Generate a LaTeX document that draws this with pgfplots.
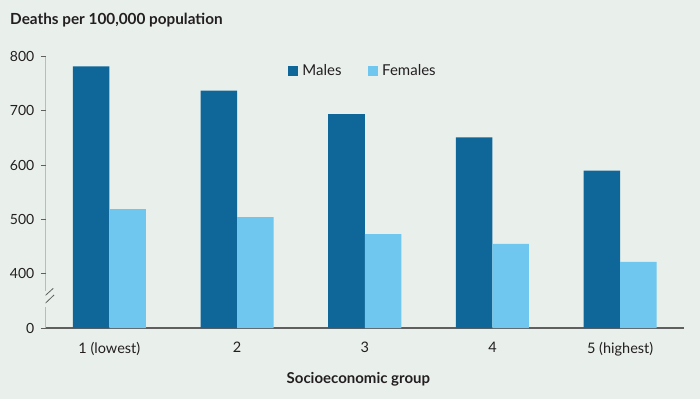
\documentclass[border=0pt]{standalone}
\usepackage{fontspec}
\setmainfont{Lato}
\usepackage{pgfplots}
\pgfplotsset{compat=1.18}
\usepackage{pgfplotstable}
\definecolor{bg}{RGB}{233,240,236}
\definecolor{male}{RGB}{14,102,153}
\definecolor{female}{RGB}{111,198,238}
\definecolor{txt}{RGB}{35,31,32}
\definecolor{axgray}{RGB}{95,95,95}

\pgfplotstableread{
x m f
0 782 519
1 737 504
2 694 473
3 651 455
4 590 422
}\data

\begin{document}
\begin{tikzpicture}[x=1pt,y=1pt]
\fill[bg] (0,0) rectangle (700,399);
\node[anchor=west, font=\fontsize{15.3}{18}\selectfont\bfseries, text=txt, inner sep=0pt] at (10,378.5) {Deaths per 100,000 population};
\begin{axis}[
  at={(45.5pt,71pt)}, anchor=south west,
  scale only axis, width=638.5pt, height=271.5pt,
  xmin=-0.5, xmax=4.5, ymin=0, ymax=500,
  axis x line*=bottom, axis y line*=left,
  x axis line style={axgray, line width=1.4pt, -},
  y axis line style={draw=none},
  xtick={0,1,2,3,4},
  xticklabels={1 (lowest),2,3,4,5 (highest)},
  x tick style={draw=none},
  ytick={0,100,200,300,400,500},
  yticklabels={0,400,500,600,700,800},
  y tick style={axgray, line width=0.8pt},
  tick align=outside, major tick length=4.7pt,
  yticklabel style={font=\fontsize{14}{16}\selectfont, text=txt, xshift=-3pt},
  xticklabel style={font=\fontsize{14.5}{16}\selectfont, text=txt, yshift=-6pt},
  xlabel={Socioeconomic group},
  xlabel style={font=\fontsize{15}{18}\selectfont\bfseries, text=txt, at={(rel axis cs:0.49,0)}, anchor=center, yshift=-51pt},
  ybar, bar width=0.286,
  legend columns=2,
  legend style={draw=none, fill=none, at={(0.3793,0.9466)}, anchor=west, inner sep=0pt,
    font=\fontsize{15}{17}\selectfont, text=txt,
    /tikz/every even column/.append style={column sep=24pt}},
  legend image code/.code={\fill[#1] (0pt,-5.3pt) rectangle (10.6pt,5.3pt);},
]
\addplot[fill=male, draw=none, bar shift=-0.143] table[x=x, y expr=\thisrow{m}-300] {\data};
\addplot[fill=female, draw=none, bar shift=0.143] table[x=x, y expr=\thisrow{f}-300] {\data};
\legend{\hspace{2pt}Males, \hspace{2pt}Females}
\draw[axgray, line width=0.8pt] (axis cs:-0.5,0) -- (axis cs:-0.5,38);
\draw[axgray, line width=0.8pt] (axis cs:-0.5,68) -- (axis cs:-0.5,500);
\draw[axgray, line width=0.8pt] ([xshift=-8.2pt]axis cs:-0.5,46.6) -- ([xshift=7.8pt]axis cs:-0.5,73.1);
\draw[axgray, line width=0.8pt] ([xshift=-7.2pt]axis cs:-0.5,33.1) -- ([xshift=8.5pt]axis cs:-0.5,60.8);
\end{axis}
\pgfresetboundingbox
\path (0,0) rectangle (700,399);
\end{tikzpicture}
\end{document}
